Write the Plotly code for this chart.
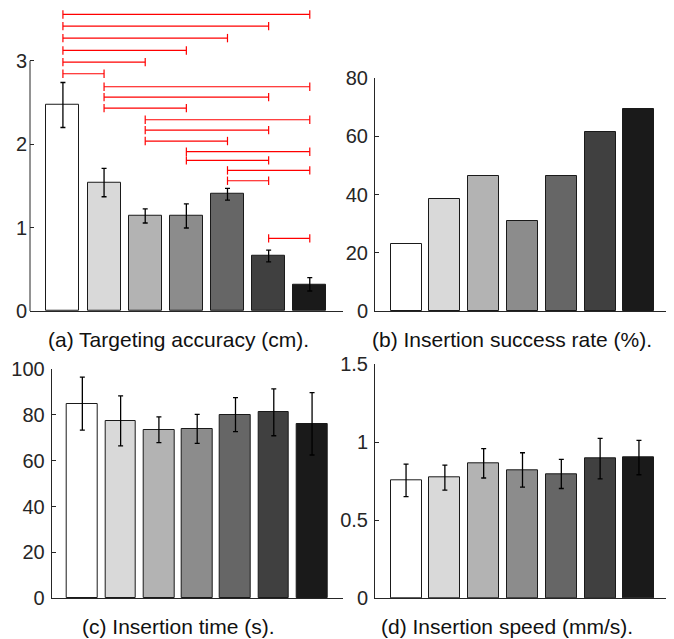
import plotly.graph_objects as go

W, H = 674, 639

conditions = [1, 2, 3, 4, 5, 6, 7]
bar_colors = ["#ffffff", "#d9d9d9", "#b3b3b3", "#8c8c8c", "#666666", "#404040", "#1a1a1a"]

# (a) Targeting accuracy (cm)
acc_mean = [2.47, 1.54, 1.14, 1.14, 1.40, 0.66, 0.32]
acc_err = [0.27, 0.17, 0.085, 0.145, 0.07, 0.07, 0.08]

# significance brackets: (from, to, height)
sig_from = [1, 1, 1, 1, 1, 1, 2, 2, 2, 3, 3, 3, 4, 4, 5, 5, 6]
sig_to = [7, 6, 5, 4, 3, 2, 7, 6, 4, 7, 6, 5, 7, 6, 7, 6, 7]
sig_h = [3.556, 3.416, 3.272, 3.124, 2.984, 2.845, 2.689, 2.565, 2.433,
         2.293, 2.169, 2.038, 1.910, 1.806, 1.686, 1.562, 0.871]

# (b) Insertion success rate (%)
succ_rate = [23.1, 38.5, 46.2, 30.8, 46.2, 61.5, 69.2]

# (c) Insertion time (s)
time_mean = [84.9, 77.4, 73.5, 73.9, 80.1, 81.1, 76.1]
time_err = [11.6, 10.9, 5.6, 6.3, 7.4, 10.2, 13.6]

# (d) Insertion speed (mm/s)
speed_mean = [0.756, 0.774, 0.865, 0.823, 0.797, 0.895, 0.902]
speed_err = [0.104, 0.08, 0.094, 0.11, 0.093, 0.13, 0.11]

captions = ["(a) Targeting accuracy (cm).", "(b) Insertion success rate (%).",
            "(c) Insertion time (s).", "(d) Insertion speed (mm/s)."]

FONT = "Liberation Sans, Arial, Helvetica, sans-serif"
TXT = "#262626"
OFF = 8  # page body margin compensation

def px_x(p):
    return (p - OFF) / W

def px_y(p):
    return 1 - (p - OFF) / H

fig = go.Figure()

def add_bars(vals, errs, xa, ya):
    err = None
    if errs is not None:
        err = dict(type="data", array=errs, visible=True, color="#000000",
                   thickness=1.3, width=2.5)
    fig.add_trace(go.Bar(
        x=conditions, y=vals, xaxis=xa, yaxis=ya, width=0.8,
        marker=dict(color=bar_colors, line=dict(color="#1a1a1a", width=1)),
        error_y=err, showlegend=False, hoverinfo="skip"))

add_bars(acc_mean, acc_err, "x", "y")
add_bars(succ_rate, None, "x2", "y2")
add_bars(time_mean, time_err, "x3", "y3")
add_bars(speed_mean, speed_err, "x4", "y4")

for a, b, h in zip(sig_from, sig_to, sig_h):
    fig.add_trace(go.Scatter(
        x=[a, b], y=[h, h], xaxis="x", yaxis="y", mode="lines+markers",
        line=dict(color="#ff0000", width=1.2),
        marker=dict(symbol="line-ns", size=6, line=dict(color="#ff0000", width=1.2)),
        cliponaxis=False, showlegend=False, hoverinfo="skip"))

xcommon = dict(range=[0.2, 7.8], showticklabels=False, ticks="", showline=True,
               linecolor=TXT, linewidth=1, showgrid=False, zeroline=False,
               fixedrange=True, automargin=False)
ycommon = dict(ticks="inside", ticklen=4, tickcolor=TXT, tickwidth=1, showgrid=False,
               zeroline=False, showline=True, linecolor=TXT, linewidth=1,
               tickfont=dict(family=FONT, size=20, color=TXT), ticklabelstandoff=2,
               automargin=False, fixedrange=True)

left_a, right_a = 30, 342.7
left_c = 51.7
left_b, right_b = 375, 670

fig.update_layout(
    width=W, height=H, margin=dict(l=0, r=0, t=0, b=0, autoexpand=False),
    paper_bgcolor="white", plot_bgcolor="white",
    bargap=0,
    xaxis=dict(xcommon, domain=[px_x(left_a), px_x(right_a)], anchor="y"),
    yaxis=dict(ycommon, domain=[px_y(311), px_y(311 - 3.6 * 83.4)], range=[0, 3.6],
               tickvals=[0, 1, 2, 3], ticktext=["0", "1", "2", "3"], showline=False, anchor="x"),
    xaxis2=dict(xcommon, domain=[px_x(left_b), px_x(right_b)], anchor="y2"),
    yaxis2=dict(ycommon, domain=[px_y(311), px_y(78)], range=[0, 80],
                tickvals=[0, 20, 40, 60, 80], anchor="x2"),
    xaxis3=dict(xcommon, domain=[px_x(left_c), px_x(right_a)], anchor="y3"),
    yaxis3=dict(ycommon, domain=[px_y(598.3), px_y(369)], range=[0, 100],
                tickvals=[0, 20, 40, 60, 80, 100], anchor="x3"),
    xaxis4=dict(xcommon, domain=[px_x(left_b), px_x(right_b)], anchor="y4"),
    yaxis4=dict(ycommon, domain=[px_y(598.3), px_y(364.3)], range=[0, 1.5],
                tickvals=[0, 0.5, 1, 1.5], ticktext=["0", "0.5", "1", "1.5"], anchor="x4"),
)

# y-axis line of panel (a) only spans 0..3
fig.add_shape(type="line", xref="x domain", yref="y", x0=0, x1=0, y0=0, y1=3,
              line=dict(color=TXT, width=1))

cap_pos = [(178, 340), (512, 340), (178, 626), (507, 626)]
for txt, (cx, cy) in zip(captions, cap_pos):
    fig.add_annotation(text=txt, xref="paper", yref="paper", x=px_x(cx), y=px_y(cy),
                       xanchor="center", yanchor="middle", showarrow=False,
                       font=dict(family=FONT, size=21, color="#111111"))

fig.write_html("out.html")
